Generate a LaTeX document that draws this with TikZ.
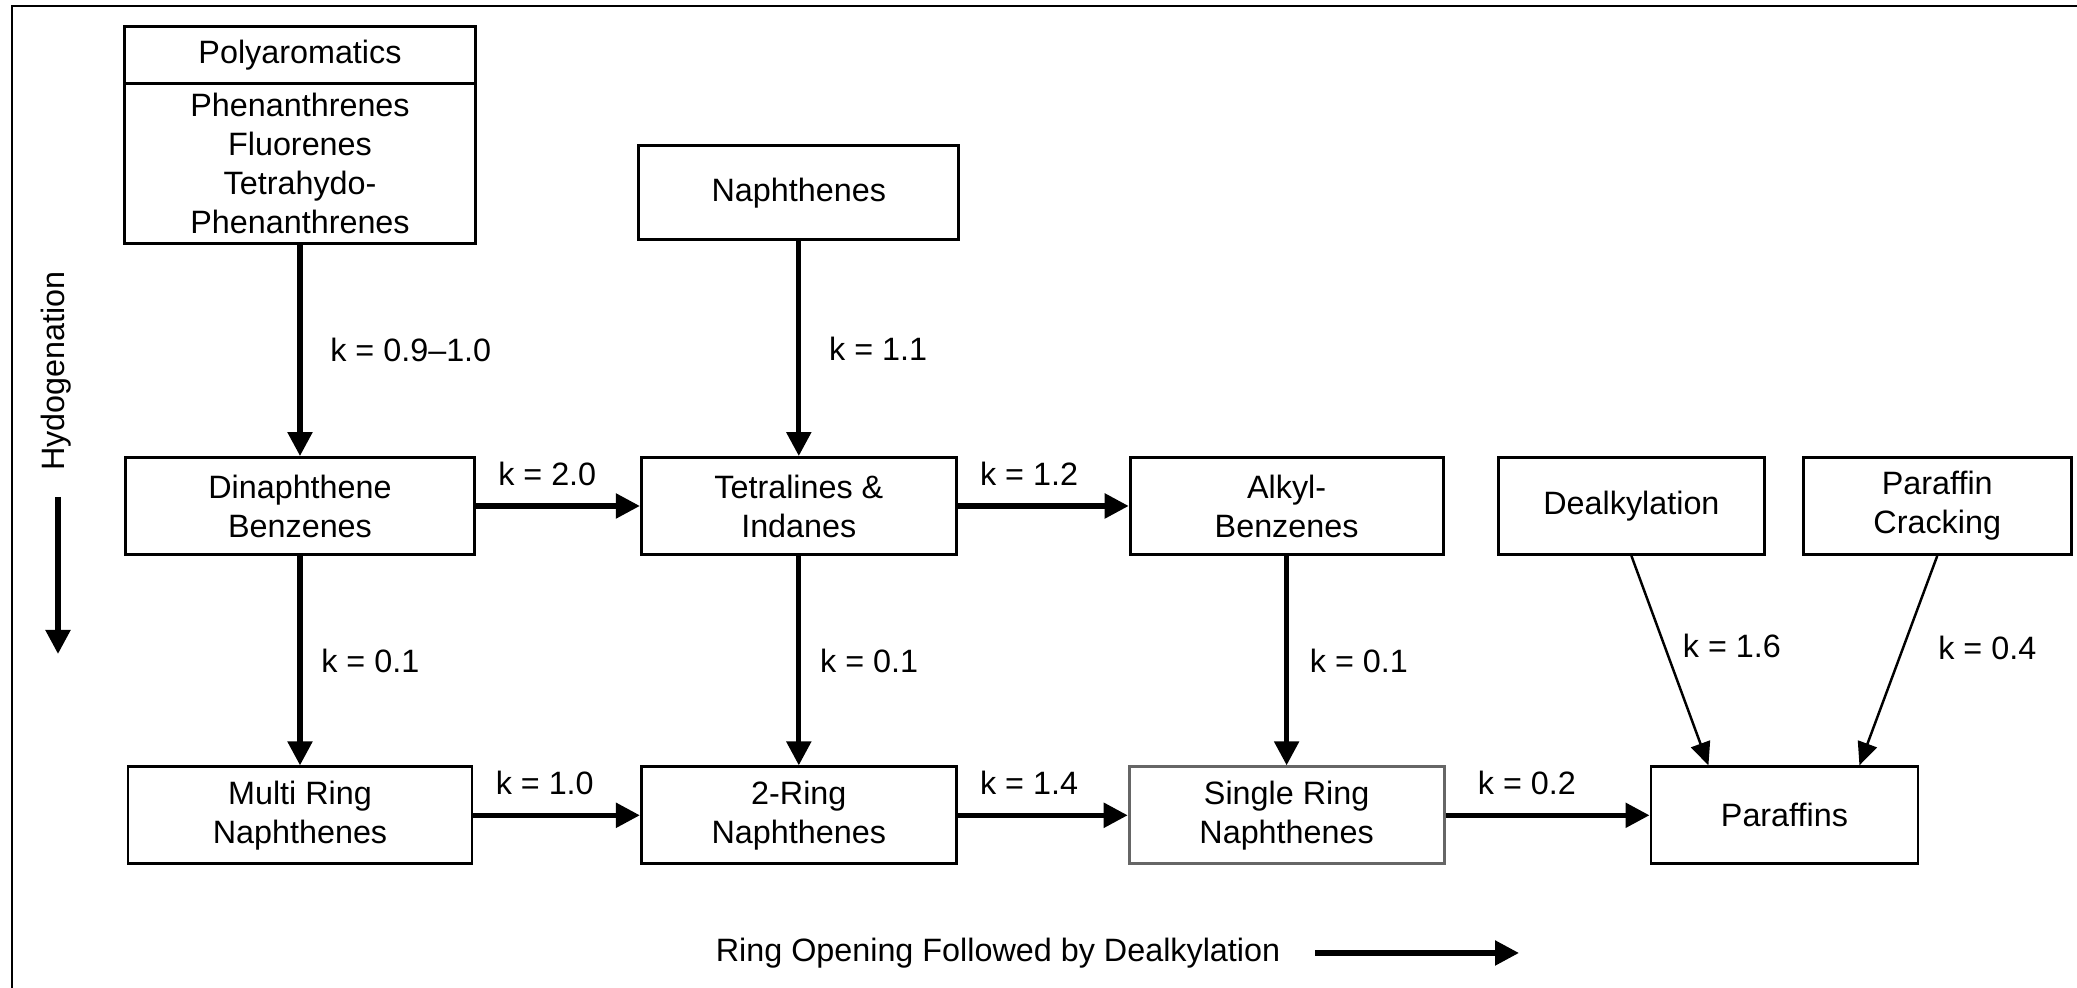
\documentclass[tikz,border=0pt]{standalone}
\usepackage{fontspec}
\setmainfont{Liberation Sans}
\usepackage{tikz}
\usetikzlibrary{arrows.meta,positioning}
\tikzset{
  box/.style       ={draw,line width=0.8pt,align=center,inner sep=2pt,minimum height=0.97cm},
  arrow/.style     ={-{Triangle[length=2.4mm,width=2.4mm]},line width=1.5pt},
  thinarrow/.style ={-{Triangle[length=2.3mm,width=2mm]},line width=0.7pt},
  hrate/.style     ={pos=0,anchor=south west,xshift=0.8mm,yshift=0.6mm}
}
\begin{document}
\begin{tikzpicture}[node distance=2.1cm and 1.7cm, every node/.style={font=\fontsize{9.2}{11.1}\selectfont}]
    \useasboundingbox (0,0) rectangle (20.77,9.88);
    \draw[line width=0.8pt] (0.12,0) -- (0.12,9.82) -- (20.77,9.82);
    % top row
    \node[box,minimum width=3.49cm] (dinaph) at (3.00,4.82) {Dinaphthene\\Benzenes};
    \node[box,minimum width=3.15cm,right=1.64cm of dinaph]  (tetral)  {Tetralines \&\\Indanes};
    \node[box,minimum width=3.13cm,right=1.71cm of tetral]  (alkyl)   {Alkyl-\\Benzenes};
    \node[box,minimum width=2.66cm,right=0.525cm of alkyl]  (dealk)   {Dealkylation};
    \node[box,minimum width=2.68cm,right=0.36cm of dealk]   (crack)   {Paraffin\\Cracking};
    % bottom row
    \node[box,minimum width=3.44cm,below=2.095cm of dinaph] (multi)   {Multi Ring\\Naphthenes};
    \node[box,minimum width=3.15cm,below=2.095cm of tetral] (tworing) {2-Ring\\Naphthenes};
    \node[box,minimum width=3.15cm,below=2.095cm of alkyl,draw=black!60] (single) {Single Ring\\Naphthenes};
    \node[box,minimum width=2.67cm,right=2.04cm of single]  (paraffins) {Paraffins};
    % feeds
    \node[box,minimum width=3.20cm,minimum height=0.94cm,above=2.15cm of tetral]  (naph)    {Naphthenes};
    \node[box,minimum width=3.51cm,minimum height=1.60cm,above=2.115cm of dinaph] (polyaro) {Phenanthrenes\\Fluorenes\\Tetrahydo-\\Phenanthrenes};
    \node[box,minimum width=3.51cm,minimum height=0.57cm,above=-0.8pt of polyaro] (polyhead) {Polyaromatics};
    % axis notes
    \node[rotate=90] (hydro) at (0.56,6.17) {Hydogenation};
    \coordinate (hydtop) at (0.58,4.91);
    \coordinate (hydbot) at (0.58,3.34);
    \node (ringopen) at (9.98,0.35) {Ring Opening Followed by Dealkylation};
    \coordinate (rostart) at (13.15,0.35);
    \coordinate (roend)   at (15.19,0.35);
    \draw[arrow] (polyaro) -- node[midway,right=1.6mm] {k = 0.9–1.0} (dinaph);
    \draw[arrow] (naph)    -- node[midway,right=1.6mm] {k = 1.1} (tetral);
    \draw[arrow] (dinaph)  -- node[hrate] {k = 2.0} (tetral);
    \draw[arrow] (tetral)  -- node[hrate] {k = 1.2} (alkyl);
    \draw[arrow] (dinaph)  -- node[midway,right=0.7mm] {k = 0.1} (multi);
    \draw[arrow] (tetral)  -- node[midway,right=0.7mm] {k = 0.1} (tworing);
    \draw[arrow] (alkyl)   -- node[midway,right=0.9mm] {k = 0.1} (single);
    \draw[arrow] (multi)   -- node[hrate] {k = 1.0} (tworing);
    \draw[arrow] (tworing) -- node[hrate] {k = 1.4} (single);
    \draw[arrow] (single)  -- node[hrate,xshift=1mm] {k = 0.2} (paraffins);
    \draw[thinarrow] (dealk.south) -- node[midway,right,yshift=1.5mm] {k = 1.6} ([xshift=-7.6mm]paraffins.north);
    \draw[thinarrow] (crack.south) -- node[midway,right,xshift=2.7mm,yshift=1.3mm] {k = 0.4} ([xshift=7.5mm]paraffins.north);
    \draw[arrow] (hydtop)  -- (hydbot);
    \draw[arrow] (rostart) -- (roend);
\end{tikzpicture}
\end{document}
